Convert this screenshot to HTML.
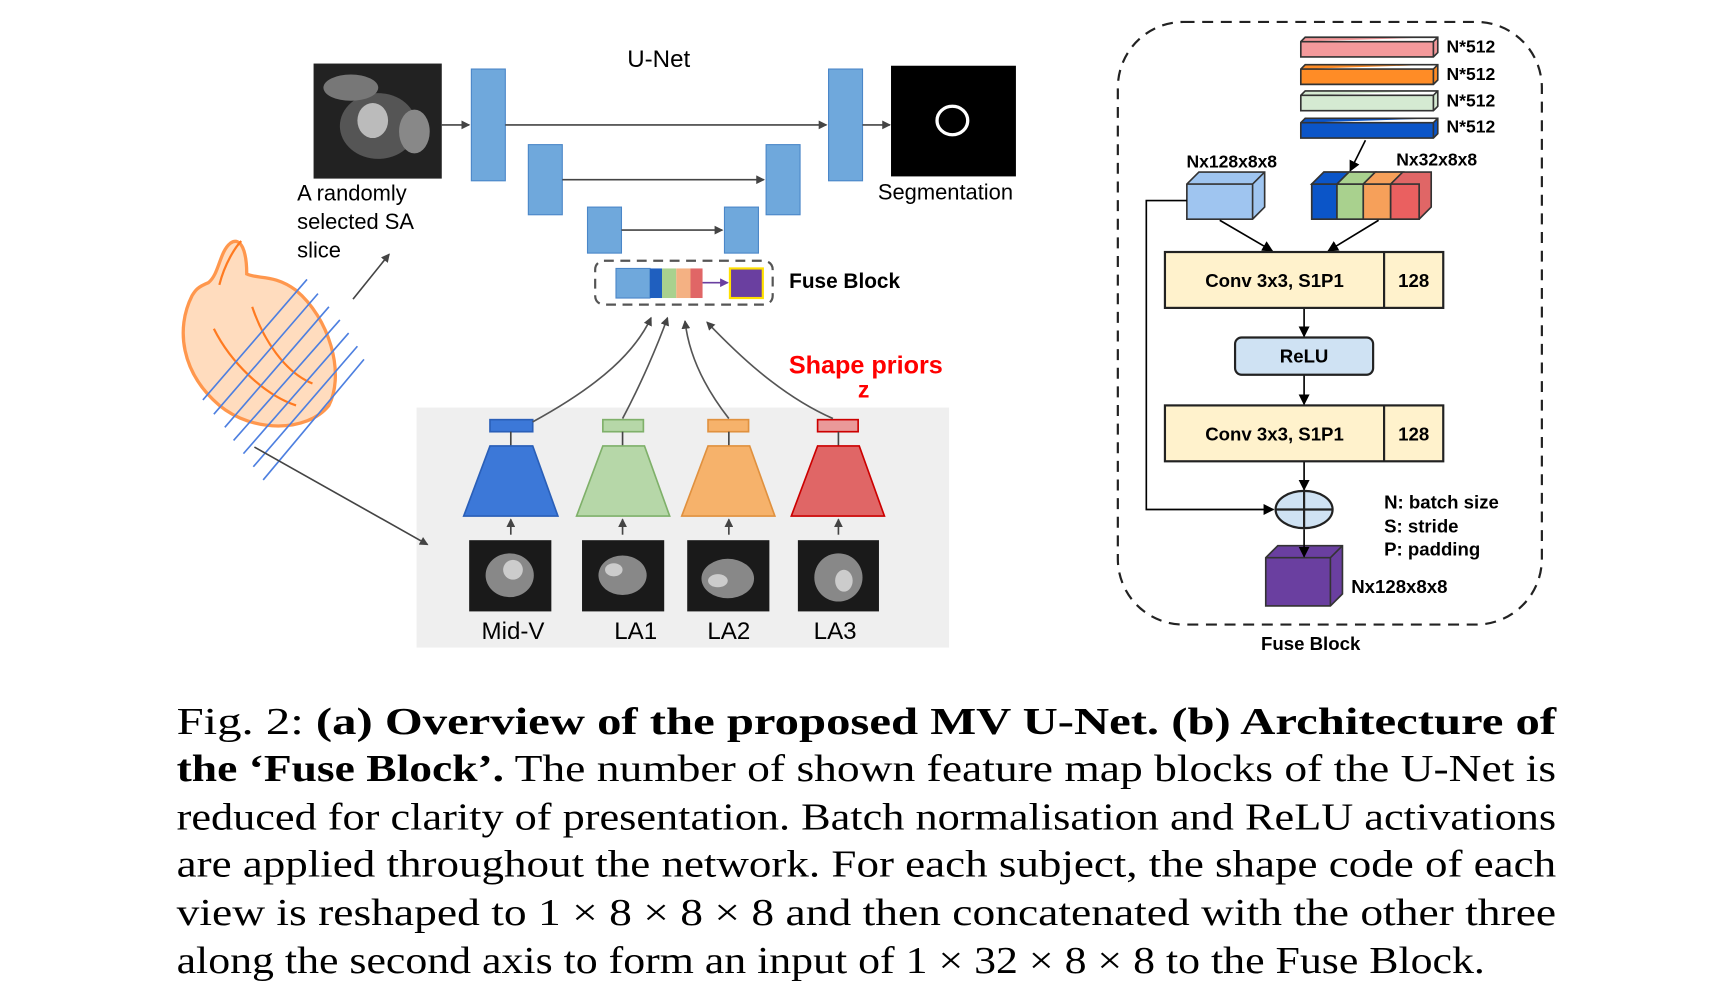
<!DOCTYPE html>
<html><head><meta charset="utf-8"><style>
html,body{margin:0;padding:0;background:#fff;width:1713px;height:996px;overflow:hidden}
svg{display:block}
.s{font-family:"Liberation Sans",Arial,sans-serif}
.b{font-family:"Liberation Sans",Arial,sans-serif;font-weight:bold}
.c{font-family:"Liberation Serif","DejaVu Serif",serif;font-size:35px}
</style></head><body>
<svg width="1713" height="996" viewBox="0 0 1563 909" xmlns="http://www.w3.org/2000/svg">
<defs>
<marker id="a" markerWidth="8" markerHeight="8" refX="7" refY="4" orient="auto" markerUnits="userSpaceOnUse"><path d="M0,0 L8,4 L0,8 z" fill="#444"/></marker>
<marker id="k" markerWidth="10" markerHeight="10" refX="9" refY="5" orient="auto" markerUnits="userSpaceOnUse"><path d="M0,0 L10,5 L0,10 z" fill="#000"/></marker>
<marker id="p" markerWidth="8" markerHeight="8" refX="7" refY="4" orient="auto" markerUnits="userSpaceOnUse"><path d="M0,0 L8,4 L0,8 z" fill="#6a3fa0"/></marker>
</defs>
<text x="601" y="61" class="s" font-size="22" text-anchor="middle">U-Net</text>
<rect x="286" y="58" width="117" height="105" fill="#222"/>
<ellipse cx="345" cy="115" rx="35" ry="30" fill="#555"/><ellipse cx="378" cy="120" rx="14" ry="20" fill="#888"/><ellipse cx="340" cy="110" rx="14" ry="16" fill="#bbb"/><ellipse cx="320" cy="80" rx="25" ry="12" fill="#777"/>
<line x1="403" y1="114" x2="428" y2="114" stroke="#444" stroke-width="1.5" marker-end="url(#a)"/>
<g fill="#6fa8dc" stroke="#4a86c8" stroke-width="1">
<rect x="430" y="63" width="31" height="102"/><rect x="482" y="132" width="31" height="64"/><rect x="536" y="189" width="31" height="42"/>
<rect x="661" y="189" width="31" height="42"/><rect x="699" y="132" width="31" height="64"/><rect x="756" y="63" width="31" height="102"/></g>
<g stroke="#444" stroke-width="1.5">
<line x1="461" y1="114" x2="754" y2="114" marker-end="url(#a)"/>
<line x1="513" y1="164" x2="697" y2="164" marker-end="url(#a)"/>
<line x1="567" y1="210" x2="659" y2="210" marker-end="url(#a)"/>
<line x1="787" y1="114" x2="812" y2="114" marker-end="url(#a)"/></g>
<rect x="813" y="60" width="114" height="101" fill="#000"/>
<ellipse cx="869" cy="110" rx="14" ry="13" fill="none" stroke="#fff" stroke-width="3"/>
<text x="801" y="182" class="s" font-size="20">Segmentation</text>
<text class="s" font-size="20"><tspan x="271" y="183">A randomly</tspan><tspan x="271" y="209">selected SA</tspan><tspan x="271" y="235">slice</tspan></text>
<rect x="543" y="238" width="162" height="40" rx="8" fill="none" stroke="#555" stroke-width="2" stroke-dasharray="9,6"/>
<rect x="562" y="245" width="31" height="27" fill="#6fa8dc" stroke="#4a86c8"/>
<rect x="593" y="245" width="11" height="27" fill="#1f5fbf"/><rect x="604" y="245" width="13" height="27" fill="#a9d18e"/><rect x="617" y="245" width="13" height="27" fill="#f4b183"/><rect x="630" y="245" width="11" height="27" fill="#e06666"/>
<line x1="641" y1="258" x2="664" y2="258" stroke="#6a3fa0" stroke-width="1.5" marker-end="url(#p)"/>
<rect x="666" y="245" width="30" height="27" fill="#6a3fa0" stroke="#ffe000" stroke-width="2"/>
<text x="720" y="263" class="b" font-size="19">Fuse Block</text>
<g>
<path d="M175,270 C160,300 165,340 200,370 C230,395 280,395 300,370 C315,340 300,290 270,265 C250,250 235,255 225,250 C225,230 220,215 210,222 C200,230 200,250 190,258 C180,262 178,265 175,270 Z" fill="#ffd9b8" stroke="#ff8c3a" stroke-width="3" opacity="0.9"/>
<path d="M195,300 C210,330 240,360 270,370 M230,280 C240,310 260,340 285,350 M200,260 C205,240 215,225 220,220" fill="none" stroke="#ff7a20" stroke-width="2"/>
<g stroke="#4d7fe0" stroke-width="1.5">
<line x1="185" y1="365" x2="280" y2="255"/><line x1="195" y1="378" x2="290" y2="268"/><line x1="205" y1="390" x2="300" y2="280"/><line x1="213" y1="402" x2="310" y2="292"/><line x1="222" y1="414" x2="318" y2="304"/><line x1="231" y1="426" x2="326" y2="316"/><line x1="240" y1="438" x2="332" y2="328"/></g>
</g>
<line x1="322" y1="273" x2="355" y2="232" stroke="#444" stroke-width="1.5" marker-end="url(#a)"/>
<rect x="380" y="372" width="486" height="219" fill="#efefef"/>
<line x1="232" y1="408" x2="390" y2="497" stroke="#444" stroke-width="1.5" marker-end="url(#a)"/>
<g stroke-width="1.5">
<rect x="447" y="383" width="39" height="11" fill="#3c78d8" stroke="#2a5fb8"/><line x1="466" y1="394" x2="466" y2="407" stroke="#444"/>
<path d="M447,407 L486,407 L509,471 L423,471 Z" fill="#3c78d8" stroke="#2a5fb8"/>
<rect x="550" y="383" width="37" height="11" fill="#b6d7a8" stroke="#7fb06a"/><line x1="568" y1="394" x2="568" y2="407" stroke="#444"/>
<path d="M550,407 L588,407 L611,471 L526,471 Z" fill="#b6d7a8" stroke="#7fb06a"/>
<rect x="646" y="383" width="37" height="11" fill="#f6b26b" stroke="#e0913f"/><line x1="665" y1="394" x2="665" y2="407" stroke="#444"/>
<path d="M646,407 L684,407 L707,471 L622,471 Z" fill="#f6b26b" stroke="#e0913f"/>
<rect x="746" y="383" width="37" height="11" fill="#ea9999" stroke="#cc0000"/><line x1="765" y1="394" x2="765" y2="407" stroke="#444"/>
<path d="M746,407 L784,407 L807,471 L722,471 Z" fill="#e06666" stroke="#cc0000"/>
</g>
<g fill="#1a1a1a"><rect x="428" y="493" width="75" height="65"/><rect x="531" y="493" width="75" height="65"/><rect x="627" y="493" width="75" height="65"/><rect x="728" y="493" width="74" height="65"/></g>
<g fill="#888"><ellipse cx="465" cy="525" rx="22" ry="20"/><ellipse cx="568" cy="525" rx="22" ry="18"/><ellipse cx="664" cy="528" rx="24" ry="18"/><ellipse cx="765" cy="527" rx="22" ry="22"/></g>
<g fill="#ccc"><ellipse cx="468" cy="520" rx="9" ry="9"/><ellipse cx="560" cy="520" rx="8" ry="6"/><ellipse cx="655" cy="530" rx="9" ry="6"/><ellipse cx="770" cy="530" rx="8" ry="10"/></g>
<g stroke="#444" stroke-width="1.5">
<line x1="466" y1="488" x2="466" y2="474" marker-end="url(#a)"/><line x1="568" y1="488" x2="568" y2="474" marker-end="url(#a)"/>
<line x1="665" y1="488" x2="665" y2="474" marker-end="url(#a)"/><line x1="765" y1="488" x2="765" y2="474" marker-end="url(#a)"/></g>
<g class="s" font-size="22" text-anchor="middle"><text x="468" y="583">Mid-V</text><text x="580" y="583">LA1</text><text x="665" y="583">LA2</text><text x="762" y="583">LA3</text></g>
<g fill="none" stroke="#555" stroke-width="1.5">
<path d="M486,385 C550,350 580,320 594,290" marker-end="url(#a)"/>
<path d="M568,382 C585,350 600,315 609,290" marker-end="url(#a)"/>
<path d="M665,382 C640,350 628,320 625,293" marker-end="url(#a)"/>
<path d="M760,382 C710,360 670,320 645,294" marker-end="url(#a)"/></g>
<text x="790" y="341" class="b" font-size="23" fill="#ff0000" text-anchor="middle">Shape priors</text>
<text x="788" y="363" class="b" font-size="21" fill="#ff0000" text-anchor="middle">z</text>
<rect x="1020" y="20" width="387" height="550" rx="60" fill="none" stroke="#222" stroke-width="2" stroke-dasharray="10,7"/>
<text x="1196" y="593" class="b" font-size="17" text-anchor="middle">Fuse Block</text>
<g stroke="#333" stroke-width="1.5">
<path d="M1187,38 l4,-4 h121 v14 l-4,4 h-121 z M1187,38 h121 l4,-4 M1308,38 v14" fill="#f4999b"/>
<path d="M1187,63 l4,-4 h121 v14 l-4,4 h-121 z M1187,63 h121 l4,-4 M1308,63 v14" fill="#ff8c26"/>
<path d="M1187,87 l4,-4 h121 v14 l-4,4 h-121 z M1187,87 h121 l4,-4 M1308,87 v14" fill="#d5ead2"/>
<path d="M1187,112 l4,-4 h121 v14 l-4,4 h-121 z M1187,112 h121 l4,-4 M1308,112 v14" fill="#0b55c8"/>
</g>
<g class="b" font-size="16"><text x="1320" y="48">N*512</text><text x="1320" y="73">N*512</text><text x="1320" y="97">N*512</text><text x="1320" y="121">N*512</text></g>
<text x="1124" y="153" class="b" font-size="16" text-anchor="middle">Nx128x8x8</text>
<text x="1311" y="151" class="b" font-size="16" text-anchor="middle">Nx32x8x8</text>
<line x1="1246" y1="128" x2="1232" y2="156" stroke="#000" stroke-width="1.5" marker-end="url(#k)"/>
<g stroke="#333" stroke-width="1.5">
<path d="M1083,168 l11,-11 h60 v32 l-11,11 h-60 z" fill="#9fc5f0"/><path d="M1083,168 h60 l11,-11 M1143,168 v32" fill="none"/>
<path d="M1197,168 l11,-11 h98 v32 l-11,11 h-98 z" fill="#e06666"/>
<rect x="1197" y="168" width="23" height="32" fill="#0b55c8"/><rect x="1220" y="168" width="24" height="32" fill="#a9d18e"/><rect x="1244" y="168" width="25" height="32" fill="#f6a05a"/><rect x="1269" y="168" width="26" height="32" fill="#ea6060"/>
<path d="M1197,168 l11,-11 h23 l-11,11 z" fill="#0b55c8"/><path d="M1220,168 l11,-11 h24 l-11,11 z" fill="#a9d18e"/><path d="M1244,168 l11,-11 h25 l-11,11 z" fill="#f6a05a"/>
<path d="M1155,509 l11,-11 h59 v44 l-11,11 h-59 z" fill="#6a3fa0"/><path d="M1155,509 h59 l11,-11 M1214,509 v44" fill="none"/>
</g>
<g stroke="#000" stroke-width="1.5" fill="none">
<line x1="1113" y1="201" x2="1161" y2="229" marker-end="url(#k)"/>
<line x1="1258" y1="201" x2="1212" y2="229" marker-end="url(#k)"/>
<line x1="1190" y1="281" x2="1190" y2="307" marker-end="url(#k)"/>
<line x1="1190" y1="342" x2="1190" y2="369" marker-end="url(#k)"/>
<line x1="1190" y1="421" x2="1190" y2="447" marker-end="url(#k)"/>
<line x1="1190" y1="483" x2="1190" y2="508" marker-end="url(#k)"/>
<path d="M1083,183 H1046 V465 H1162" marker-end="url(#k)"/>
</g>
<g stroke="#222" stroke-width="2"><rect x="1063" y="230" width="254" height="51" fill="#fff2cc"/><line x1="1263" y1="230" x2="1263" y2="281"/>
<rect x="1063" y="370" width="254" height="51" fill="#fff2cc"/><line x1="1263" y1="370" x2="1263" y2="421"/>
<rect x="1127" y="308" width="126" height="34" rx="6" fill="#cfe2f3"/>
<ellipse cx="1190" cy="465" rx="26" ry="17" fill="#cfe2f3"/><line x1="1164" y1="465" x2="1216" y2="465"/><line x1="1190" y1="448" x2="1190" y2="482"/></g>
<g class="b" font-size="17" text-anchor="middle"><text x="1163" y="262">Conv 3x3, S1P1</text><text x="1290" y="262">128</text>
<text x="1163" y="402">Conv 3x3, S1P1</text><text x="1290" y="402">128</text><text x="1190" y="331">ReLU</text></g>
<g class="b" font-size="17"><text x="1263" y="464">N: batch size</text><text x="1263" y="486">S: stride</text><text x="1263" y="507">P: padding</text><text x="1233" y="541">Nx128x8x8</text></g>
<g class="c">
<text x="161" y="670" textLength="1259" lengthAdjust="spacingAndGlyphs">Fig. 2: <tspan font-weight="bold">(a) Overview of the proposed MV U-Net. (b) Architecture of</tspan></text>
<text x="161" y="713" textLength="1259" lengthAdjust="spacingAndGlyphs"><tspan font-weight="bold">the ‘Fuse Block’.</tspan> The number of shown feature map blocks of the U-Net is</text>
<text x="161" y="757" textLength="1259" lengthAdjust="spacingAndGlyphs">reduced for clarity of presentation. Batch normalisation and ReLU activations</text>
<text x="161" y="800" textLength="1259" lengthAdjust="spacingAndGlyphs">are applied throughout the network. For each subject, the shape code of each</text>
<text x="161" y="844" textLength="1259" lengthAdjust="spacingAndGlyphs">view is reshaped to 1 × 8 × 8 × 8 and then concatenated with the other three</text>
<text x="161" y="888" textLength="1194" lengthAdjust="spacingAndGlyphs">along the second axis to form an input of 1 × 32 × 8 × 8 to the Fuse Block.</text>
</g>
</svg>
</body></html>
